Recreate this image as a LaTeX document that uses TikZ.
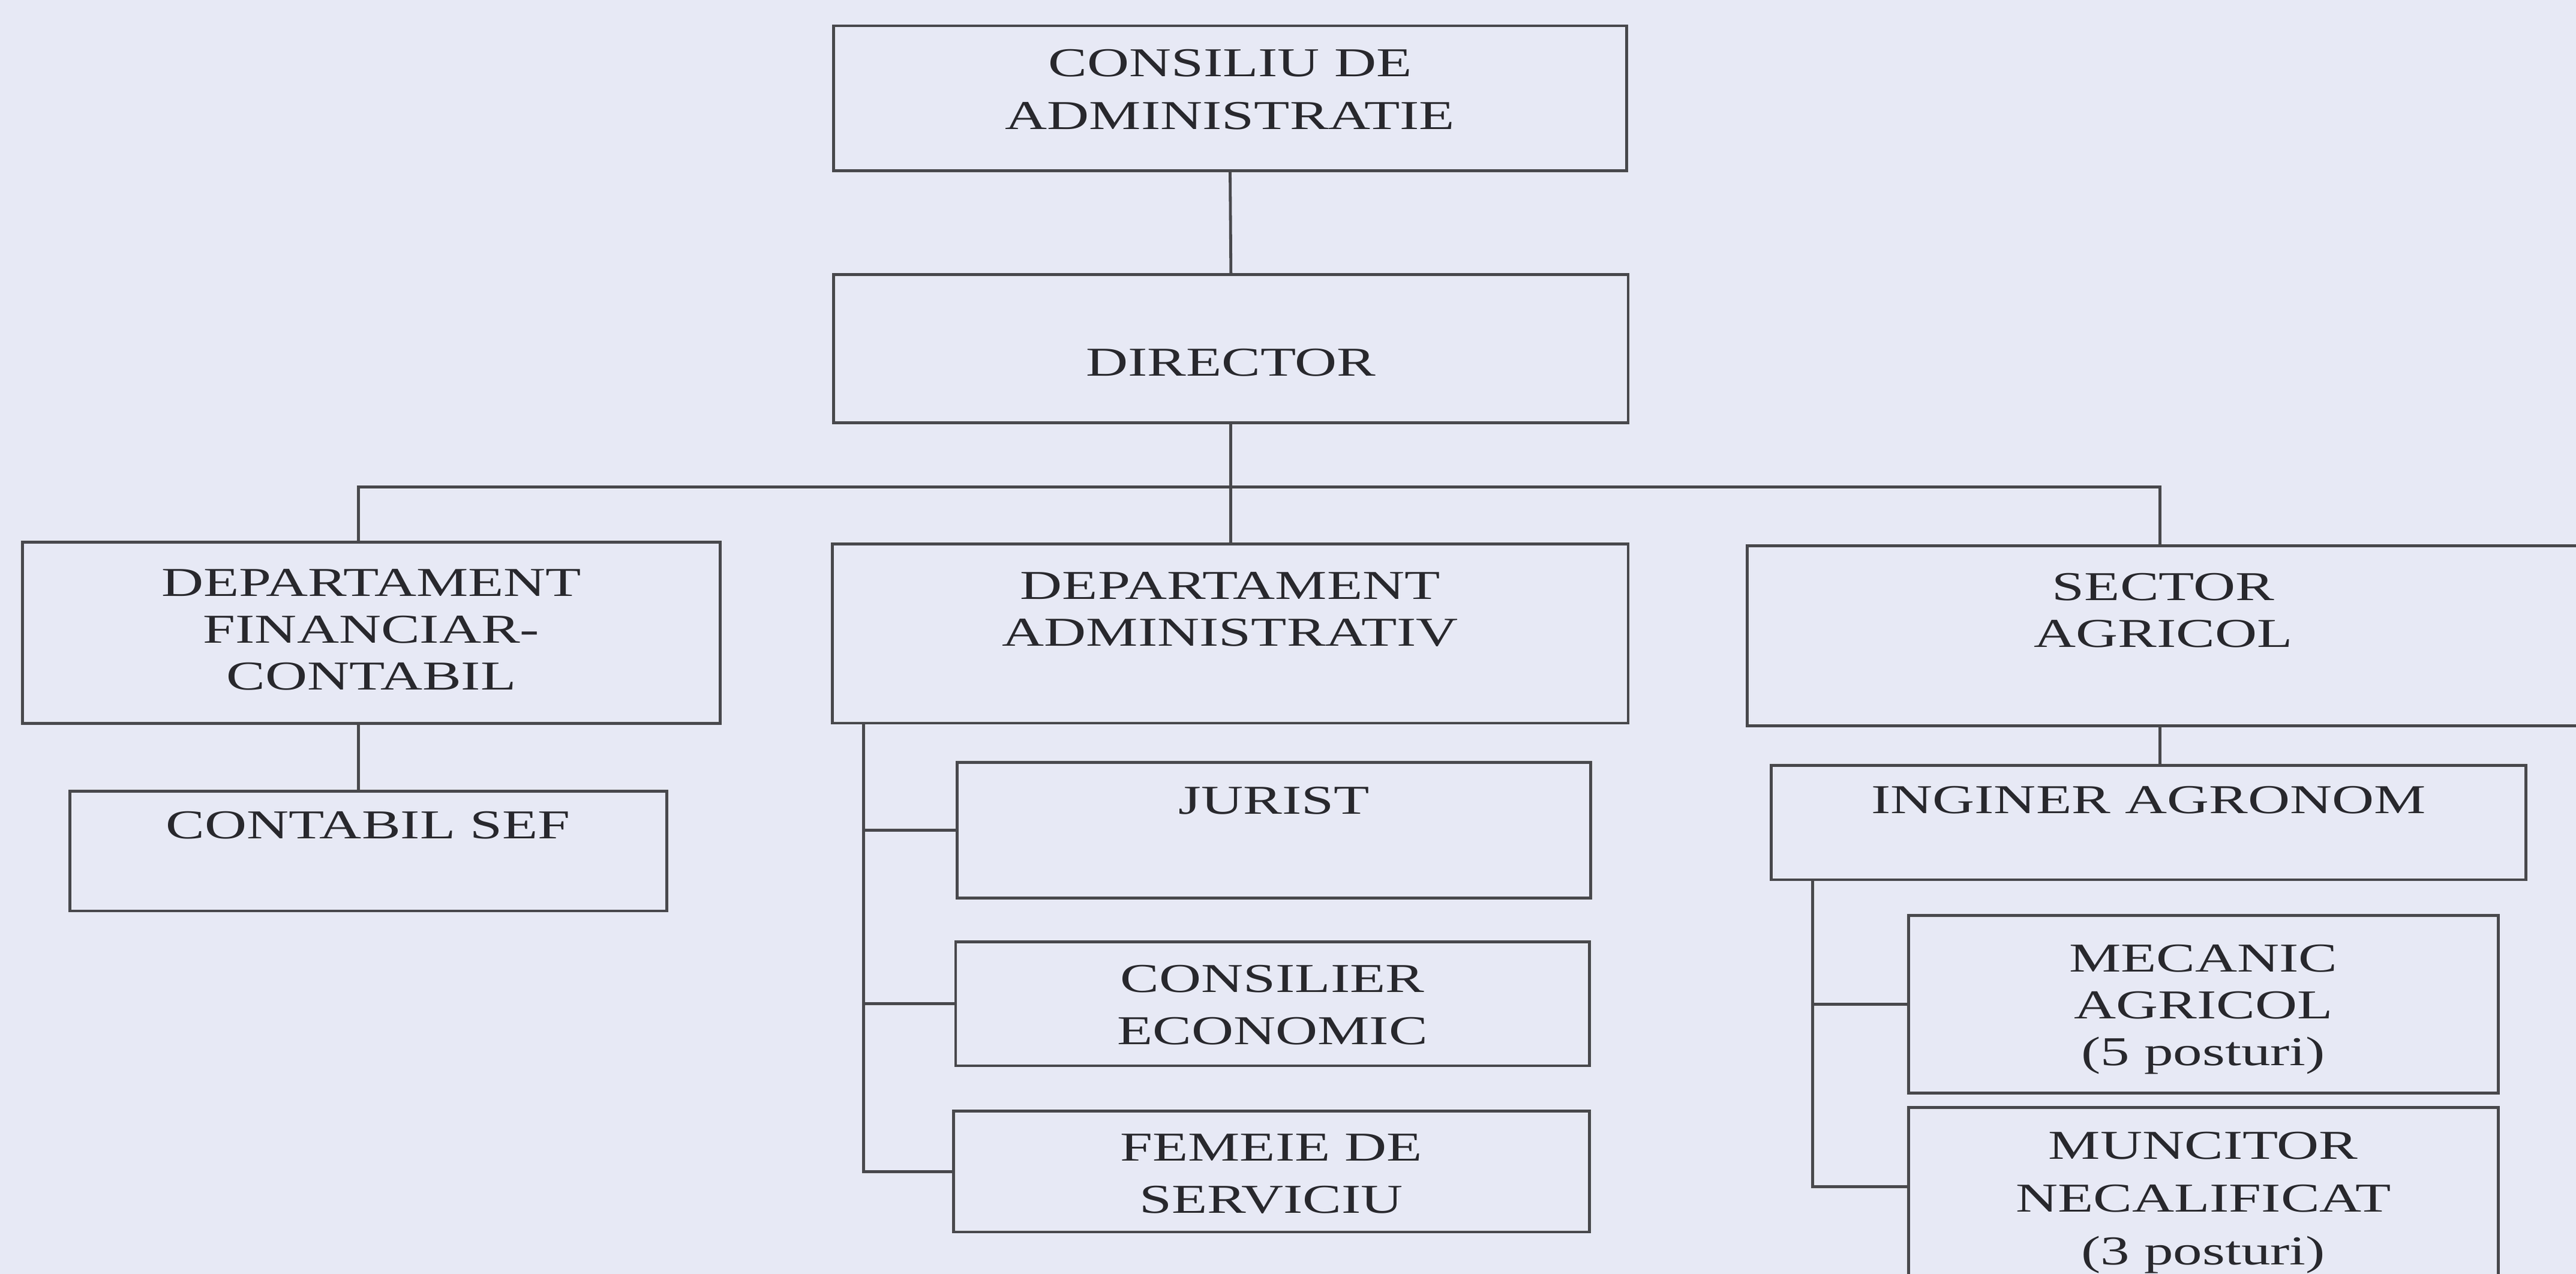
\documentclass[tikz,border=0pt]{standalone}
\usepackage{fontspec}
\setmainfont{Liberation Serif}[FakeStretch=1.42]
\usetikzlibrary{positioning}
\definecolor{paper}{RGB}{231,233,245}
\definecolor{ink}{RGB}{72,72,76}
\definecolor{textink}{RGB}{40,40,45}

\begin{document}
\begin{tikzpicture}[
    post/.style={draw=ink, line width=0.5pt, rectangle, inner sep=0pt, outer sep=0pt, anchor=north west},
    txt/.style={inner sep=0pt, align=center, text=textink, font=\fontsize{7.1}{8.1}\selectfont},
    txtwide/.style={txt, font=\fontsize{7.1}{9.1}\selectfont},
    link/.style={draw=ink, line width=0.5pt}]
  \useasboundingbox (0,0) rectangle (15.68,-7.752);
  \fill[paper] (0,0) rectangle (15.68,-7.752);

  % boxes
  \node[post, minimum width=4.825cm, minimum height=0.883cm] (cons) at (5.075,-0.157) {};
  \node[post, minimum width=4.835cm, minimum height=0.904cm] (dir) at (5.075,-1.67) {};
  \node[post, minimum width=4.249cm, minimum height=1.103cm] (fin) at (0.136,-3.30) {};
  \node[post, minimum width=4.843cm, minimum height=1.09cm] (adm) at (5.067,-3.31) {};
  \node[post, minimum width=5.064cm, minimum height=1.097cm] (sec) at (10.636,-3.32) {};
  \node[post, minimum width=3.634cm, minimum height=0.727cm] (sef) at (0.424,-4.816) {};
  \node[post, minimum width=3.857cm, minimum height=0.825cm] (jur) at (5.826,-4.64) {};
  \node[post, minimum width=3.857cm, minimum height=0.753cm] (eco) at (5.817,-5.732) {};
  \node[post, minimum width=3.871cm, minimum height=0.737cm] (fem) at (5.803,-6.76) {};
  \node[post, minimum width=4.592cm, minimum height=0.696cm] (ing) at (10.782,-4.657) {};
  \node[post, minimum width=3.591cm, minimum height=1.08cm] (mec) at (11.616,-5.57) {};
  \node[post, minimum width=3.591cm, minimum height=1.2cm] (mun) at (11.616,-6.74) {};

  % texts
  \node[txtwide, below=0.138cm of cons.north] (consT) {CONSILIU DE\\ADMINISTRATIE};
  \node[txt, below=0.447cm of dir.north] (dirT) {DIRECTOR};
  \node[txt, below=0.155cm of fin.north] (finT) {DEPARTAMENT\\FINANCIAR-\\CONTABIL};
  \node[txt, below=0.163cm of adm.north] (admT) {DEPARTAMENT\\ADMINISTRATIV};
  \node[txt, below=0.16cm of sec.north] (secT) {SECTOR\\AGRICOL};
  \node[txt, below=0.115cm of sef.north] (sefT) {CONTABIL SEF};
  \node[txt, below=0.14cm of jur.north] (jurT) {JURIST};
  \node[txtwide, below=0.133cm of eco.north] (ecoT) {CONSILIER\\ECONOMIC};
  \node[txtwide, below=0.133cm of fem.north] (femT) {FEMEIE DE\\SERVICIU};
  \node[txt, below=0.12cm of ing.north] (ingT) {INGINER AGRONOM};
  \node[txt, below=0.173cm of mec.north] (mecT) {MECANIC\\AGRICOL\\(5 posturi)};
  \node[txtwide, below=0.142cm of mun.north] (munT) {MUNCITOR\\NECALIFICAT\\(3 posturi)};

  % connectors
  \draw[link] (cons.south) -- (dir.north);
  \draw[link] (dir.south) -- (dir.south |- adm.north);
  \coordinate (bus) at ([yshift=-0.39cm]dir.south);
  \draw[link] ([xshift=-0.08cm]fin.north) |- (bus) -| ([xshift=-0.02cm]sec.north);
  \draw[link] ([xshift=-0.08cm]fin.south) -- ([xshift=-0.08cm]fin.south |- sef.north);
  \coordinate (admrail) at ([xshift=0.19cm]adm.south west);
  \foreach \k in {jur,eco,fem}
    \draw[link] (admrail) |- (\k.west);
  \draw[link] ([xshift=-0.02cm]sec.south) -- ([xshift=-0.02cm]sec.south |- ing.north);
  \coordinate (ingrail) at ([xshift=0.25cm]ing.south west);
  \draw[link] (ingrail) |- (mec.west);
  \draw[link] (ingrail) |- ([yshift=-0.48cm]mun.north west);
\end{tikzpicture}
\end{document}
